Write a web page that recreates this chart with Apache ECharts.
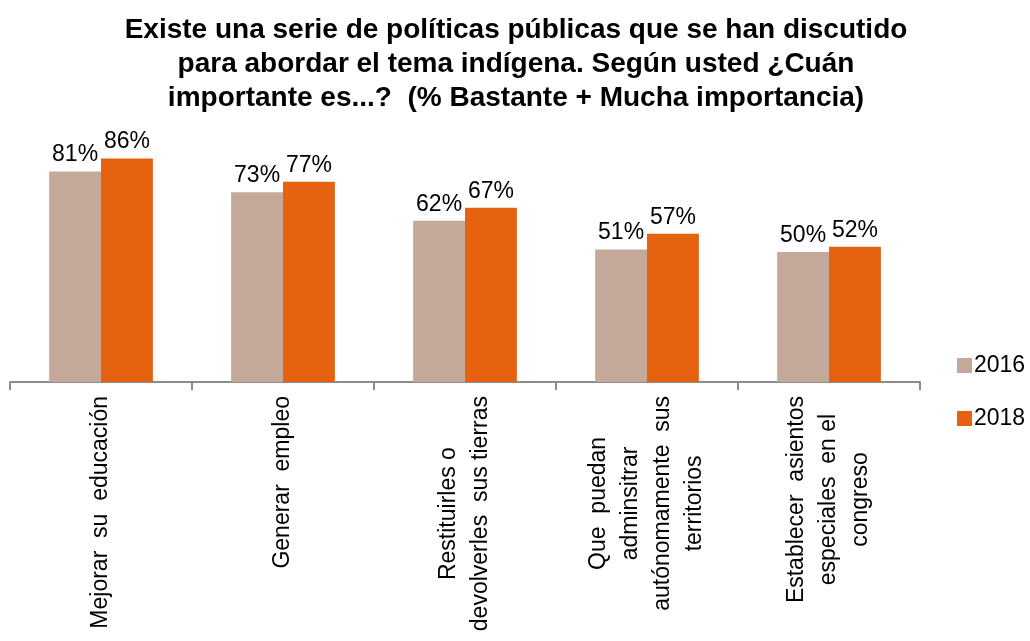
<!DOCTYPE html>
<html>
<head>
<meta charset="utf-8">
<script src="https://cdn.jsdelivr.net/npm/echarts@6/dist/echarts.min.js"></script>
<style>
html,body{margin:0;padding:0;background:#fff;}
#chart{width:1030px;height:641px;}
</style>
</head>
<body>
<div id="chart"></div>
<script>
const titleText = 'Existe una serie de políticas públicas que se han discutido\npara abordar el tema indígena. Según usted ¿Cuán\nimportante es...?  (% Bastante + Mucha importancia)';
const categories = [
  'Mejorar  su  educación',
  'Generar  empleo',
  'Restituirles o\ndevolverles  sus tierras',
  'Que  puedan\nadminsitrar\nautónomamente  sus\nterritorios',
  'Establecer  asientos\nespeciales  en el\ncongreso'
];
const seriesNames = ['2016', '2018'];
const values2016 = [81, 73, 62, 51, 50];
const values2018 = [86, 77, 67, 57, 52];

const FONT = "'Liberation Sans', Arial, sans-serif";
const chart = echarts.init(document.getElementById('chart'));
chart.setOption({
  animation: false,
  backgroundColor: '#fff',
  title: {
    text: titleText,
    left: 511,
    textAlign: 'center',
    top: 8,
    textStyle: {fontFamily: FONT, fontWeight: 'bold', fontSize: 28, lineHeight: 34, color: '#000'}
  },
  legend: {
    orient: 'vertical',
    left: 952,
    top: 349,
    itemWidth: 15,
    itemHeight: 15,
    itemGap: 30,
    icon: 'rect',
    textStyle: {fontFamily: FONT, fontSize: 23, color: '#000', padding: [0,0,0,-3]},
    data: seriesNames
  },
  grid: {left: 10, right: 110, top: 122, bottom: 259, containLabel: false},
  xAxis: {
    type: 'category',
    data: categories,
    axisLine: {show: true, lineStyle: {color: '#8c8c8c', width: 2}},
    axisTick: {show: true, alignWithLabel: false, interval: 0, length: 8, lineStyle: {color: '#8c8c8c', width: 2}},
    axisLabel: {
      rotate: 90,
      interval: 0,
      margin: 14,
      fontFamily: FONT,
      fontSize: 23,
      lineHeight: 32,
      color: '#000',
      formatter: function (v) { return v.split('\n').map(function (l) { return '{c|' + l + '}'; }).join('\n'); },
      rich: {c: {align: 'center', fontFamily: FONT, fontSize: 23, lineHeight: 32, color: '#000'}}
    }
  },
  yAxis: {type: 'value', min: 0, max: 100, show: false, splitLine: {show: false}},
  series: [
    {
      name: seriesNames[0], type: 'bar', data: values2016,
      barGap: '0%', barCategoryGap: '43%',
      itemStyle: {color: '#C4A99B'},
      label: {show: true, position: 'top', distance: 5, formatter: '{c}%', fontFamily: FONT, fontSize: 23, color: '#000'}
    },
    {
      name: seriesNames[1], type: 'bar', data: values2018,
      barGap: '0%', barCategoryGap: '43%',
      itemStyle: {color: '#E46210'},
      label: {show: true, position: 'top', distance: 5, formatter: '{c}%', fontFamily: FONT, fontSize: 23, color: '#000'}
    }
  ]
});
</script>
</body>
</html>
